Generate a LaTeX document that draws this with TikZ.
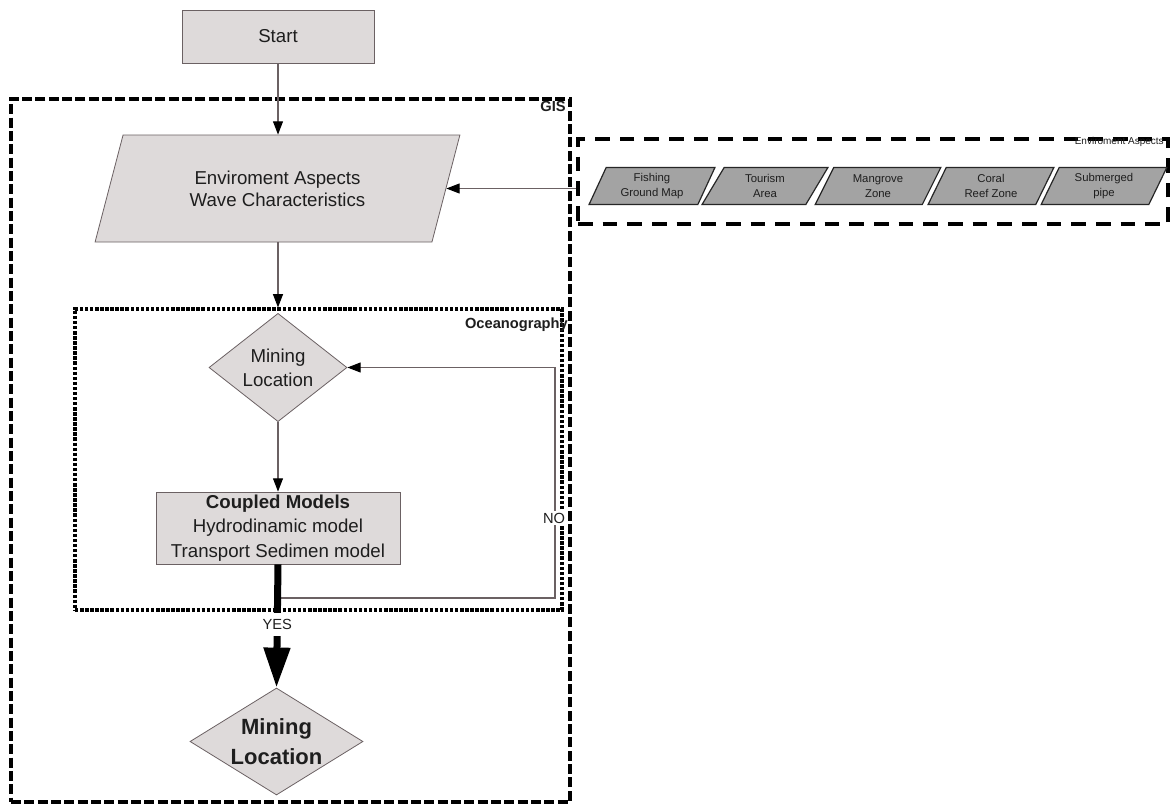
\documentclass[tikz,border=0pt]{standalone}
\usepackage{fontspec}
\setmainfont{Liberation Sans}
\usetikzlibrary{shapes.geometric,arrows.meta}
\definecolor{fillgray}{HTML}{DEDADA}
\definecolor{darkfill}{HTML}{A3A3A3}
\definecolor{linegray}{HTML}{6B6163}
\definecolor{txt}{HTML}{1E1E1E}
\begin{document}
\begin{tikzpicture}[x=0.75pt,y=-0.75pt,
 every node/.style={text=txt},
 shapebox/.style={draw=linegray, line width=0.6pt, fill=fillgray},
 procbox/.style={shapebox, rectangle, inner sep=0pt, align=center},
 para/.style={shapebox, trapezium, trapezium left angle=66, trapezium right angle=114, trapezium stretches=true, inner sep=0pt, align=center},
 dia/.style={shapebox, diamond, inner sep=0pt, align=center},
 smallpara/.style={draw=black!85, line width=0.9pt, fill=darkfill, trapezium, trapezium left angle=65, trapezium right angle=115, trapezium stretches=true, inner sep=0pt, minimum width=94.5pt, minimum height=27.75pt, font=\fontsize{8.5}{11}\selectfont, align=center},
 gisframe/.style={draw=black, line width=3pt, dash pattern=on 7.5pt off 2.5pt, rectangle, inner sep=0pt},
 oceanframe/.style={draw=black, line width=2.3pt, dash pattern=on 2.6pt off 1.2pt, rectangle, inner sep=0pt},
 envframe/.style={draw=black, line width=2.5pt, dash pattern=on 11pt off 7.5pt, rectangle, inner sep=0pt},
 arr/.style={draw=linegray, line width=0.8pt, -{Triangle[length=10pt,width=7.5pt,color=black]}},
 bigarr/.style={draw=black, line width=5.25pt, -{Triangle[length=30pt,width=19pt]}},
 framelabel/.style={font=\bfseries\fontsize{11}{13}\selectfont, inner sep=0pt, anchor=north east},
 smalllabel/.style={font=\fontsize{11}{13}\selectfont, fill=white, inner sep=1pt}
]
\fill[white] (0,0) rectangle (1172,810);
\useasboundingbox (0,0) rectangle (1172,810);

% frames
\node[gisframe, minimum width=419.25pt, minimum height=527.25pt] (gis) at (290.5,450) {};
\node[oceanframe, minimum width=365.25pt, minimum height=225.75pt] (ocean) at (318.5,459.5) {};
\node[envframe, minimum width=442.5pt, minimum height=63.75pt] (env) at (873,181.5) {};

\node[framelabel] (gislab) at (566,101) {GIS};
\node[framelabel] (oceanlab) at (568,318) {Oceanography};
\node[font=\fontsize{7.5}{9}\selectfont, inner sep=0pt, anchor=north east] (envlab) at (1164,137) {Enviroment Aspects};

% main flow
\node[procbox, minimum width=144pt, minimum height=39.75pt, font=\fontsize{14}{17}\selectfont] (start) at (278,36.5) {Start};
\node[para, minimum width=273.75pt, minimum height=80.25pt, font=\fontsize{14}{16.5}\selectfont] (par) at (277.5,188.5) {Enviroment Aspects\\Wave Characteristics};
\node[dia, minimum width=103.5pt, minimum height=78.75pt, font=\fontsize{14}{18}\selectfont] (d1) at (278,367.5) {Mining\\Location};
\node[procbox, minimum width=183pt, minimum height=54pt, font=\fontsize{14}{18.5}\selectfont] (cm) at (278,528) {\textbf{Coupled Models}\\Hydrodinamic model\\Transport Sedimen model};
\node[dia, minimum width=129.75pt, minimum height=80.25pt] (d2) at (276.5,741.5) {};
\node[font=\bfseries\fontsize{16.5}{22}\selectfont, align=center, inner sep=0pt] (d2t) at (d2.center) {Mining\\Location};

% environment aspects items
\node[smallpara] (p1) at (652,186) {Fishing\\Ground Map};
\node[smallpara] (p2) at (765,186) {Tourism\\Area};
\node[smallpara] (p3) at (878,186) {Mangrove\\Zone};
\node[smallpara] (p4) at (991,186) {Coral\\Reef Zone};
\node[smallpara] (p5) at (1104,186) {Submerged\\pipe};

% connectors
\draw[arr] (start.south) -- (start.south |- par.north);
\draw[arr] (env.west |- par.east) -- (par.east);
\draw[arr] (start.south |- par.south) -- (start.south |- ocean.north);
\draw[arr] (d1.south) -- (cm.north);

\coordinate (fb) at (278,598);
\coordinate (fbr) at (555,598);
\draw[arr] (fb) -- (fbr) |- (d1.east);
\node[smalllabel] (no) at (554,518) {NO};

\draw[bigarr] (cm.south) -- node[pos=0.49, fill=white, inner sep=1pt, minimum height=17pt, font=\fontsize{11}{13}\selectfont] (yes) {YES} (d2.north);
\end{tikzpicture}
\end{document}
